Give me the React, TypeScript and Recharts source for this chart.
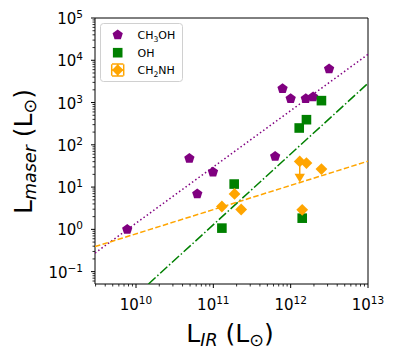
import React from 'react';
import { ScatterChart, Scatter, XAxis, YAxis, ErrorBar, ReferenceArea } from 'recharts';

// ---- axes ----
const xDomain: [number, number] = [2.95e9, 1e13];
const yDomain: [number, number] = [0.051, 1e5];
const xMajorTicks = [1e10, 1e11, 1e12, 1e13];
const yMajorTicks = [1e-1, 1e0, 1e1, 1e2, 1e3, 1e4, 1e5];
const minorMultipliers = [2, 3, 4, 5, 6, 7, 8, 9];
const xMinorDecades = [1e9, 1e10, 1e11, 1e12];
const yMinorDecades = [1e-2, 1e-1, 1e0, 1e1, 1e2, 1e3, 1e4];

// ---- data ----
const ch3ohLIR = [7.7e9, 4.9e10, 6.2e10, 9.9e10, 6.3e11, 7.85e11, 1.0e12, 1.57e12, 1.95e12, 3.14e12];
const ch3ohLmaser = [1.0, 48, 6.9, 22.7, 53, 2130, 1240, 1240, 1360, 6250];
const ohLIR = [1.29e11, 1.86e11, 1.29e12, 1.6e12, 2.5e12, 1.41e12];
const ohLmaser = [1.07, 11.8, 250, 393, 1110, 1.84];
const ch2nhLIR = [1.29e11, 1.88e11, 2.29e11, 1.31e12, 1.6e12, 2.5e12, 1.41e12];
const ch2nhLmaser = [3.47, 6.9, 2.95, 40.4, 37, 26.7, 2.9];
const ch2nhLimitLIR = [1.31e12];
const ch2nhLimitTop = [40.4];
const ch2nhLimitValue = [16.6];

// fit lines (end points)
const ch3ohFitLIR = [2.95e9, 1e13];
const ch3ohFitLmaser = [0.275, 13800];
const ohFitLIR = [1.45e10, 1e13];
const ohFitLmaser = [0.051, 2850];
const ch2nhFitLIR = [2.95e9, 1e13];
const ch2nhFitLmaser = [0.39, 41];

const PURPLE = '#800080';
const GREEN = '#008000';
const ORANGE = '#FFA500';
const FONT = 'DejaVu Sans';

const zip = (xs: number[], ys: number[]) => xs.map((x, i) => ({ x, y: ys[i] }));
const minors = (decades: number[], dom: [number, number]) =>
  decades.flatMap((d) => minorMultipliers.map((m) => m * d)).filter((v) => v >= dom[0] && v <= dom[1]);

const xTicks = [...xMajorTicks, ...minors(xMinorDecades, xDomain)].sort((a, b) => a - b);
const yTicks = [...yMajorTicks, ...minors(yMinorDecades, yDomain)].sort((a, b) => a - b);

const isMajor = (v: number) => {
  const l = Math.log10(v);
  return Math.abs(l - Math.round(l)) < 1e-9;
};
const expLabel = (v: number) => {
  const e = Math.round(Math.log10(v));
  return e < 0 ? '\u2212' + Math.abs(e) : String(e);
};

const XTick = (props: any) => {
  const { x, y, payload } = props;
  const v = payload.value;
  const maj = isMajor(v);
  return (
    <g>
      <line x1={x} x2={x} y1={y} y2={y + (maj ? 4 : 2.5)} stroke="#000" strokeWidth={maj ? 1 : 0.8} />
      {maj && (
        <text x={x} y={y + 26} textAnchor="middle" fontSize={15} fontFamily={FONT} fill="#000">
          10<tspan fontSize={10.5} dy={-6}>{expLabel(v)}</tspan>
        </text>
      )}
    </g>
  );
};

const YTick = (props: any) => {
  const { x, y, payload } = props;
  const v = payload.value;
  const maj = isMajor(v);
  return (
    <g>
      <line x1={x} x2={x - (maj ? 4 : 2.5)} y1={y} y2={y} stroke="#000" strokeWidth={maj ? 1 : 0.8} />
      {maj && (
        <text x={x - 12} y={y + 6} textAnchor="end" fontSize={15} fontFamily={FONT} fill="#000">
          10<tspan fontSize={10.5} dy={-6}>{expLabel(v)}</tspan>
        </text>
      )}
    </g>
  );
};

const pentagonPath = (cx: number, cy: number, r: number) => {
  const pts: string[] = [];
  for (let i = 0; i < 5; i++) {
    const a = -Math.PI / 2 + (i * 2 * Math.PI) / 5;
    pts.push(`${cx + r * Math.cos(a)},${cy + r * Math.sin(a)}`);
  }
  return 'M' + pts.join('L') + 'Z';
};

const Pentagon = (p: any) => <path d={pentagonPath(p.cx, p.cy, 5.4)} fill={PURPLE} />;
const Square = (p: any) => <rect x={p.cx - 4.8} y={p.cy - 4.8} width={9.6} height={9.6} fill={GREEN} />;
const Diamond = (p: any) => (
  <path d={`M${p.cx},${p.cy - 5.9}L${p.cx + 5.9},${p.cy}L${p.cx},${p.cy + 5.9}L${p.cx - 5.9},${p.cy}Z`} fill={ORANGE} />
);
const TriDown = (p: any) => (
  <path d={`M${p.cx - 5.2},${p.cy - 4}L${p.cx + 5.2},${p.cy - 4}L${p.cx},${p.cy + 4.8}Z`} fill={ORANGE} />
);
const NoShape = () => <g />;

export default function App() {
  const limitData = ch2nhLimitLIR.map((x, i) => ({
    x,
    y: ch2nhLimitTop[i],
    err: [ch2nhLimitTop[i] - ch2nhLimitValue[i], 0],
  }));
  return (
    <div style={{ position: 'absolute', left: 0, top: 0, width: 399, height: 359, background: '#fff' }}>
      <ScatterChart width={399} height={359} margin={{ top: 18, right: 31, bottom: 0, left: 0 }}>
        <XAxis
          type="number"
          dataKey="x"
          scale="log"
          domain={xDomain}
          allowDataOverflow
          ticks={xTicks}
          interval={0}
          tickSize={0}
          tickMargin={0}
          axisLine={false}
          tickLine={false}
          tick={(p: any) => <XTick {...p} />}
          height={75}
        />
        <YAxis
          type="number"
          dataKey="y"
          scale="log"
          domain={yDomain}
          allowDataOverflow
          ticks={yTicks}
          interval={0}
          tickSize={0}
          tickMargin={0}
          axisLine={false}
          tickLine={false}
          tick={(p: any) => <YTick {...p} />}
          width={95}
        />
        <Scatter
          data={zip(ch3ohFitLIR, ch3ohFitLmaser)}
          line={{ stroke: PURPLE, strokeWidth: 1.5, strokeDasharray: '1.5 2.5' }}
          shape={NoShape}
          isAnimationActive={false}
        />
        <Scatter
          data={zip(ohFitLIR, ohFitLmaser)}
          line={{ stroke: GREEN, strokeWidth: 1.5, strokeDasharray: '9.6 2.4 1.5 2.4' }}
          shape={NoShape}
          isAnimationActive={false}
        />
        <Scatter
          data={zip(ch2nhFitLIR, ch2nhFitLmaser)}
          line={{ stroke: ORANGE, strokeWidth: 1.5, strokeDasharray: '5.5 2.4' }}
          shape={NoShape}
          isAnimationActive={false}
        />
        <Scatter data={zip(ch3ohLIR, ch3ohLmaser)} shape={Pentagon} isAnimationActive={false} />
        <Scatter data={zip(ohLIR, ohLmaser)} shape={Square} isAnimationActive={false} />
        <Scatter data={limitData} shape={NoShape} isAnimationActive={false}>
          <ErrorBar dataKey="err" direction="y" width={0} stroke={ORANGE} strokeWidth={1.5} />
        </Scatter>
        <Scatter data={zip(ch2nhLimitLIR, ch2nhLimitValue)} shape={TriDown} isAnimationActive={false} />
        <Scatter data={zip(ch2nhLIR, ch2nhLmaser)} shape={Diamond} isAnimationActive={false} />
        <ReferenceArea
          x1={xDomain[0]}
          x2={xDomain[1]}
          y1={yDomain[0]}
          y2={yDomain[1]}
          fill="none"
          stroke="#000"
          strokeWidth={1}
          ifOverflow="visible"
        />
      </ScatterChart>
      <svg
        width={399}
        height={359}
        style={{ position: 'absolute', left: 0, top: 0, pointerEvents: 'none' }}
        fontFamily={FONT}
      >
        {/* legend */}
        <rect x={100.5} y={23.5} width={82} height={58} rx={3} fill="#fff" fillOpacity={0.8} stroke="#d0d0d0" />
        <path d={pentagonPath(117.7, 35, 5.4)} fill={PURPLE} />
        <text x={137.5} y={39} fontSize={11} fill="#000">
          CH<tspan fontSize={7.7} dy={2.5}>3</tspan>
          <tspan dy={-2.5}>OH</tspan>
        </text>
        <rect x={112.9} y={47.9} width={9.6} height={9.6} fill={GREEN} />
        <text x={137.5} y={56.7} fontSize={11} fill="#000">OH</text>
        <g stroke={ORANGE} strokeWidth={1.5}>
          <line x1={117.7} x2={117.7} y1={64} y2={76} />
          <line x1={112} x2={123.4} y1={64} y2={64} />
          <line x1={112} x2={123.4} y1={76} y2={76} />
          <line x1={111.7} x2={123.7} y1={70} y2={70} />
          <line x1={111.7} x2={111.7} y1={64.3} y2={75.7} />
          <line x1={123.7} x2={123.7} y1={64.3} y2={75.7} />
        </g>
        <path d="M117.7,64.3L123.4,70L117.7,75.7L112,70Z" fill={ORANGE} />
        <text x={137.5} y={74} fontSize={11} fill="#000">
          CH<tspan fontSize={7.7} dy={2.5}>2</tspan>
          <tspan dy={-2.5}>NH</tspan>
        </text>
        {/* axis titles */}
        <text x={230} y={342} textAnchor="middle" fontSize={25} fill="#000">
          L<tspan fontSize={17.5} fontStyle="italic" dy={4}>IR</tspan>
          <tspan dy={-4}> (L</tspan>
          <tspan fontSize={17.5} dy={4}>⊙</tspan>
          <tspan dy={-4}>)</tspan>
        </text>
        <text
          x={32}
          y={151.5}
          textAnchor="middle"
          fontSize={25}
          fill="#000"
          transform="rotate(-90 32 151.5)"
        >
          L<tspan fontSize={17.5} fontStyle="italic" dy={4}>maser</tspan>
          <tspan dy={-4}> (L</tspan>
          <tspan fontSize={17.5} dy={4}>⊙</tspan>
          <tspan dy={-4}>)</tspan>
        </text>
      </svg>
    </div>
  );
}
